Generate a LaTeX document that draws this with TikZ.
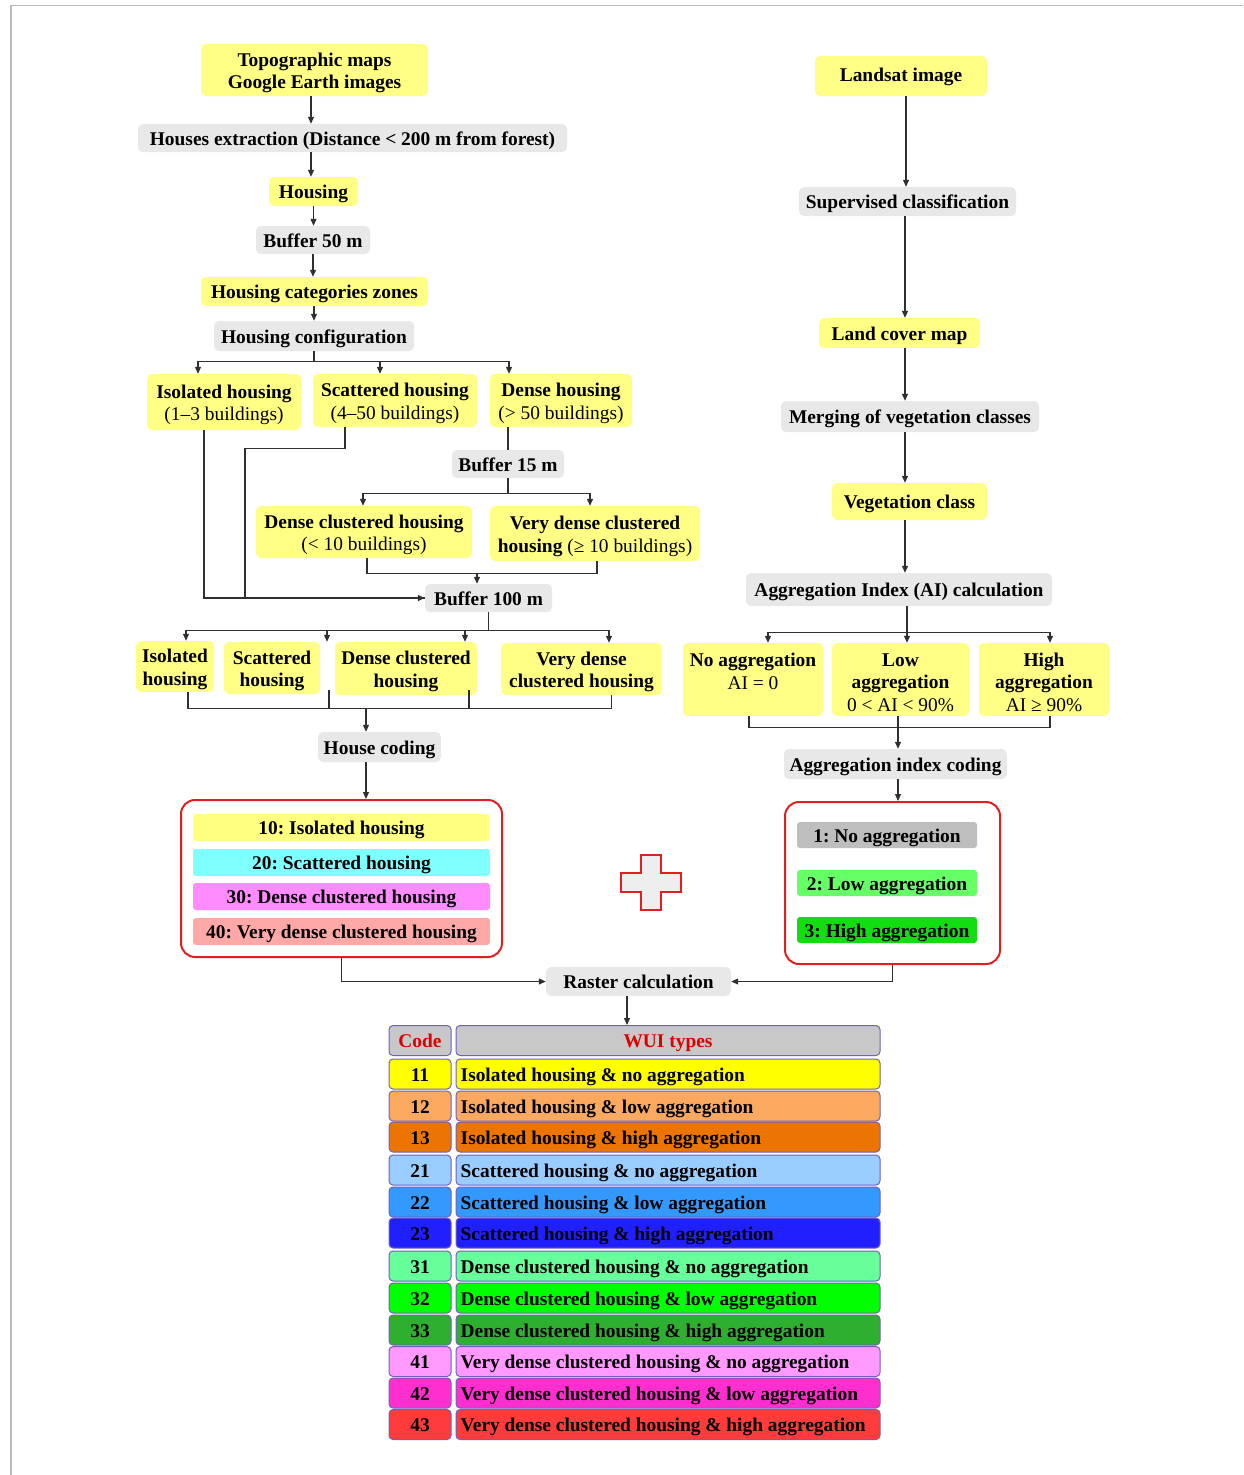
\documentclass[tikz,border=0pt]{standalone}
\usepackage{fontspec}
\setmainfont{Liberation Serif}
\usetikzlibrary{arrows.meta}
\frenchspacing
\definecolor{boxyellow}{HTML}{FFFF85}
\definecolor{boxgray}{HTML}{E8E8E8}
\definecolor{linec}{HTML}{303030}
\definecolor{framec}{HTML}{BBBBBB}
\definecolor{redbox}{HTML}{E02020}
\definecolor{cten}{HTML}{FFFF80}
\definecolor{ctwenty}{HTML}{80FFFF}
\definecolor{cthirty}{HTML}{FF8CFF}
\definecolor{cforty}{HTML}{FFA8A8}
\definecolor{aone}{HTML}{BEBEBE}
\definecolor{atwo}{HTML}{66FF66}
\definecolor{athree}{HTML}{11DD11}
\definecolor{tborder}{HTML}{7060C0}
\definecolor{thead}{HTML}{C8C8C8}
\definecolor{hred}{HTML}{DD0000}
\definecolor{rA}{HTML}{FFFF00}
\definecolor{rB}{HTML}{FBA95E}
\definecolor{rC}{HTML}{EC7400}
\definecolor{rD}{HTML}{99CCFF}
\definecolor{rE}{HTML}{3399FF}
\definecolor{rF}{HTML}{2020FF}
\definecolor{rG}{HTML}{66FF99}
\definecolor{rH}{HTML}{00FF00}
\definecolor{rI}{HTML}{2FAF2F}
\definecolor{rJ}{HTML}{FF99FF}
\definecolor{rK}{HTML}{FF2ECF}
\definecolor{rL}{HTML}{FF3B3B}
\definecolor{plusgray}{HTML}{EEEEEE}
\newcommand\ffont{\fontsize{19.4}{22.5}\selectfont\bfseries}
\newcommand\tstrut{\rule[-4.5pt]{0pt}{23.5pt}}
\newcommand\wrow[5]{%
  \node[cellc, fill=#4] (k#1) at (420,#2) {\tstrut#3};
  \node[cellt, fill=#4] (t#1) at (668,#2) {};
  \node[anchor=west, inner sep=0pt, font=\ffont] (w#1) at ([xshift=5pt]t#1.west) {\tstrut#5};}
\begin{document}
\begin{tikzpicture}[x=1pt,y=-1pt,
  base/.style={rounded corners=5pt, inner sep=0pt, align=center, font=\ffont},
  ybox/.style={base, fill=boxyellow},
  gbox/.style={base, fill=boxgray},
  sz/.style 2 args={minimum width=#1, minimum height=#2},
  conn/.style={draw=linec, line width=1.2pt},
  arr/.style={conn, -{Triangle[length=7pt,width=6pt]}},
  redframe/.style={draw=redbox, line width=2pt, rounded corners=14pt, fill=white},
  bar/.style={base, rounded corners=3pt},
  cellbase/.style={draw=tborder, line width=1pt, rounded corners=4pt, font=\ffont, minimum height=30pt, inner ysep=0pt},
  cellc/.style={cellbase, minimum width=62pt, inner xsep=0pt},
  cellt/.style={cellbase, minimum width=424pt, inner xsep=0pt},
]
\useasboundingbox (0,0) rectangle (1243,1475);
\draw[framec, line width=1.5pt] (11,1475) -- (11,5.5) -- (1243,5.5);

% ---------- left column ----------
\node[ybox, sz={227}{52}] (topo) at (314.5,70) {\tstrut Topographic maps\\Google Earth images};
\node[gbox, sz={429}{28}] (extr) at (352.5,138) {\tstrut Houses extraction (Distance < 200 m from forest)};
\node[ybox, sz={89}{29}] (housing) at (313.5,191.5) {\tstrut Housing};
\node[gbox, sz={114}{28}] (buf50) at (313,240) {\tstrut Buffer 50 m};
\node[ybox, sz={227}{29}] (catz) at (314.5,291.5) {\tstrut Housing categories zones};
\node[gbox, sz={200}{30}] (conf) at (314,336) {\tstrut Housing configuration};
\node[ybox, sz={154}{56}] (iso1) at (224,402) {\tstrut Isolated housing\\{\mdseries (1–3 buildings)}};
\node[ybox, sz={164}{53}] (sca1) at (395,400.5) {\tstrut Scattered housing\\{\mdseries (4–50 buildings)}};
\node[ybox, sz={142}{53}] (den1) at (561,400.5) {\tstrut Dense housing\\{\mdseries (> 50 buildings)}};
\node[gbox, sz={112}{28}] (buf15) at (508,464) {\tstrut Buffer 15 m};
\node[ybox, sz={216}{52}] (dcl1) at (364,532) {\tstrut Dense clustered housing\\{\mdseries (< 10 buildings)}};
\node[ybox, sz={210}{55}] (vdc1) at (595,533.5) {\tstrut Very dense clustered\\housing {\mdseries (≥ 10 buildings)}};
\node[gbox, sz={127}{28}] (buf100) at (488.5,598) {\tstrut Buffer 100 m};
\node[ybox, sz={78}{51}] (iso2) at (175,666.5) {\tstrut Isolated\\housing};
\node[ybox, sz={96}{52}] (sca2) at (272,668) {\tstrut Scattered\\housing};
\node[ybox, sz={142}{53}] (dcl2) at (406,668.5) {\tstrut Dense clustered\\housing};
\node[ybox, sz={161}{52}] (vdc2) at (581.5,669) {\tstrut Very dense\\clustered housing};
\node[gbox, sz={123}{30}] (hcod) at (379.5,747) {\tstrut House coding};
\node[redframe, sz={321}{157}] (redL) at (341.5,878.5) {};
\node[bar, fill=cten, sz={297}{27}] (c10) at (341.5,827.5) {\tstrut 10: Isolated housing};
\node[bar, fill=ctwenty, sz={297}{27}] (c20) at (341.5,862.5) {\tstrut 20: Scattered housing};
\node[bar, fill=cthirty, sz={297}{27}] (c30) at (341.5,896.5) {\tstrut 30: Dense clustered housing};
\node[bar, fill=cforty, sz={297}{27}] (c40) at (341.5,931.5) {\tstrut 40: Very dense clustered housing};
\node[gbox, sz={185}{29}] (raster) at (638.5,981.5) {\tstrut Raster calculation};

% ---------- right column ----------
\node[ybox, sz={172}{40}] (land) at (901,76) {\rule[-4.5pt]{0pt}{20pt}Landsat image};
\node[gbox, sz={217}{29}] (sup) at (907.5,201.5) {\tstrut Supervised classification};
\node[ybox, sz={161}{30}] (lcm) at (899.5,333) {\tstrut Land cover map};
\node[gbox, sz={258}{31}] (merg) at (910,416.5) {\tstrut Merging of vegetation classes};
\node[ybox, sz={155}{37}] (veg) at (909.5,501.5) {\tstrut Vegetation class};
\node[gbox, sz={306}{33}] (aic) at (899,589.5) {\tstrut Aggregation Index (AI) calculation};
\node[ybox, sz={140}{73}] (noag) at (753,679.5) {\tstrut No aggregation\\{\mdseries AI = 0}\\\mbox{}};
\node[ybox, sz={137}{73}] (lowag) at (900.5,679.5) {\tstrut Low\\aggregation\\{\mdseries 0 < AI < 90\%}};
\node[ybox, sz={130}{73}] (highag) at (1044,679.5) {\tstrut High\\aggregation\\{\mdseries AI ≥ 90\%}};
\node[gbox, sz={223}{30}] (aicod) at (895.5,764) {\tstrut Aggregation index coding};
\node[redframe, sz={215}{162}] (redR) at (892.5,883) {};
\node[bar, fill=aone, sz={180}{26}] (a1) at (887,835) {\tstrut 1: No aggregation};
\node[bar, fill=atwo, sz={180}{26}] (a2) at (887,883) {\tstrut 2: Low aggregation};
\node[bar, fill=athree, sz={180}{26}] (a3) at (887,930) {\tstrut 3: High aggregation};

% plus sign
\draw[draw=redbox, fill=plusgray, line width=1.5pt]
  (641,855) -- (661,855) -- (661,873) -- (681,873) -- (681,892) -- (661,892)
  -- (661,910) -- (641,910) -- (641,892) -- (621,892) -- (621,873) -- (641,873) -- cycle;

% ---------- table ----------
\node[cellc, fill=thead, text=hred] (hk) at (420,1040.5) {\tstrut Code};
\node[cellt, fill=thead, text=hred] (ht) at (668,1040.5) {\tstrut WUI types};
\wrow{11}{1074}{11}{rA}{Isolated housing \& no aggregation}
\wrow{12}{1106}{12}{rB}{Isolated housing \& low aggregation}
\wrow{13}{1137}{13}{rC}{Isolated housing \& high aggregation}
\wrow{21}{1170}{21}{rD}{Scattered housing \& no aggregation}
\wrow{22}{1202}{22}{rE}{Scattered housing \& low aggregation}
\wrow{23}{1233}{23}{rF}{Scattered housing \& high aggregation}
\wrow{31}{1266}{31}{rG}{Dense clustered housing \& no aggregation}
\wrow{32}{1298}{32}{rH}{Dense clustered housing \& low aggregation}
\wrow{33}{1330}{33}{rI}{Dense clustered housing \& high aggregation}
\wrow{41}{1361.5}{41}{rJ}{Very dense clustered housing \& no aggregation}
\wrow{42}{1393}{42}{rK}{Very dense clustered housing \& low aggregation}
\wrow{43}{1424.5}{43}{rL}{Very dense clustered housing \& high aggregation}

% ---------- connectors left ----------
\draw[arr] ([xshift=-3.5pt]topo.south) -- ([xshift=-3.5pt]topo.south |- extr.north);
\draw[arr] ([xshift=-2.5pt]housing.north |- extr.south) -- ([xshift=-2.5pt]housing.north);
\draw[arr] (housing.south) -- (housing.south |- buf50.north);
\draw[arr] (buf50.south) -- (buf50.south |- catz.north);
\draw[arr] (catz.south -| conf.south) -- (conf.north);
\draw[arr] (conf.south) -- ++(0,10) -| ([xshift=-26pt]iso1.north);
\draw[arr] (conf.south) -- ++(0,10) -| ([xshift=-15pt]sca1.north);
\draw[arr] (conf.south) -- ++(0,10) -| ([xshift=-52pt]den1.north);
\draw[conn] (buf15.north |- den1.south) -- (buf15.north);
\draw[arr] (buf15.south) -- ++(0,15) -| ([xshift=-1pt]dcl1.north);
\draw[arr] (buf15.south) -- ++(0,15) -| ([xshift=-5pt]vdc1.north);
\draw[conn] ([xshift=3pt]dcl1.south) -- ++(0,15) -| ([xshift=2pt]vdc1.south);
\draw[arr] ([xshift=-11.5pt,yshift=11pt]buf100.north) -- ([xshift=-11.5pt]buf100.north);
\draw[arr] ([xshift=-20pt]iso1.south) |- (buf100.west);
\draw[conn] ([xshift=-50pt]sca1.south) -- ++(0,21) -- ++(-100,0) |- (buf100.west);
\draw[arr] (buf100.south) -- ++(0,18) -| ([xshift=11pt]iso2.north);
\draw[arr] (buf100.south) -- ++(0,18) -| ([xshift=55pt]sca2.north);
\draw[arr] (buf100.south) -- ++(0,18) -| ([xshift=59pt]dcl2.north);
\draw[arr] (buf100.south) -- ++(0,18) -| ([xshift=27.5pt]vdc2.north);
\draw[conn] ([xshift=13pt]iso2.south) -- ++(0,16) -| ([xshift=30pt]vdc2.south);
\draw[conn] ([xshift=-77pt,yshift=5pt]dcl2.south) -- ++(0,18);
\draw[conn] ([xshift=63pt,yshift=5pt]dcl2.south) -- ++(0,18);
\draw[arr] ([xshift=-13.5pt,yshift=24pt]hcod.north) -- ([xshift=-13.5pt]hcod.north);
\draw[arr] ([xshift=-13.5pt]hcod.south) -- ([xshift=-13.5pt]hcod.south |- redL.north);
\draw[arr] (redL.south) |- (raster.west);
\draw[arr] (redR.south) |- (raster.east);
\draw[arr] ([xshift=-11.5pt]raster.south) -- ([xshift=-11.5pt]raster.south |- ht.north);

% ---------- connectors right ----------
\draw[arr] ([xshift=5pt]land.south) -- ([xshift=5pt]land.south |- sup.north);
\draw[arr] ([xshift=5.5pt]lcm.north |- sup.south) -- ([xshift=5.5pt]lcm.north);
\draw[arr] ([xshift=5.5pt]lcm.south) -- ([xshift=5.5pt]lcm.south |- merg.north);
\draw[arr] ([xshift=-4.5pt]veg.north |- merg.south) -- ([xshift=-4.5pt]veg.north);
\draw[arr] ([xshift=-4.5pt]veg.south) -- ([xshift=-4.5pt]veg.south |- aic.north);
\draw[arr] ([xshift=8pt]aic.south) -- ++(0,26) -| ([xshift=15pt]noag.north);
\draw[arr] ([xshift=8pt]aic.south) -- ++(0,26) -| ([xshift=6pt]highag.north);
\draw[arr] ([xshift=8pt]aic.south) -- ([xshift=8pt]aic.south |- lowag.north);
\draw[conn] ([xshift=-4pt]noag.south) -- ++(0,11) -| ([xshift=6pt]highag.south);
\draw[arr] ([xshift=2.5pt]aicod.north |- lowag.south) -- ([xshift=2.5pt]aicod.north);
\draw[arr] ([xshift=2.5pt]aicod.south) -- ([xshift=2.5pt]aicod.south |- redR.north);
\end{tikzpicture}
\end{document}
